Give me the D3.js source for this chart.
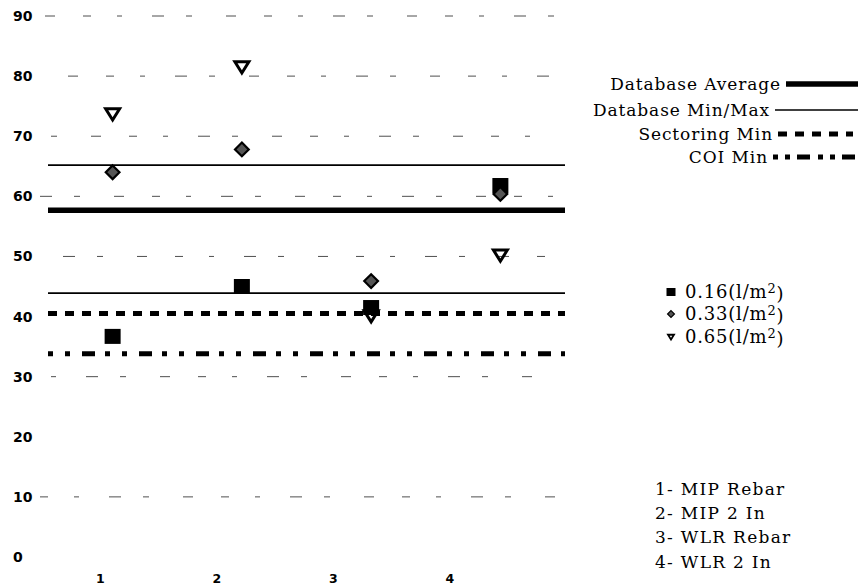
<!DOCTYPE html>
<html>
<head>
<meta charset="utf-8">
<script src="https://cdn.jsdelivr.net/npm/d3@7/dist/d3.min.js"></script>
<style>
  html, body { margin: 0; padding: 0; background: #fff; }
  svg { display: block; }
  .serif { font-family: "DejaVu Serif", "Liberation Serif", serif; fill: #000; }
  .tick-lab { font-family: "DejaVu Sans", "Liberation Sans", sans-serif; font-weight: bold; fill: #000; }
</style>
</head>
<body>
<svg id="chart" width="861" height="586"></svg>
<script>
// Test cases on the x axis
const cases = [1, 2, 3, 4];
const caseNames = ["1- MIP Rebar", "2- MIP 2 In", "3- WLR Rebar", "4- WLR 2 In"];

// Measured results per application rate (l/m2)
const rate016 = [36.7, 45.0, 41.5, 61.8];
const rate033 = [64.0, 67.8, 45.9, 60.4];
const rate065 = [73.7, 81.5, 40.1, 50.2];
const rateLabels = ["0.16", "0.33", "0.65"];

// Reference levels from the database
const dbAverage = 57.7;
const dbMinMax = [43.9, 65.2];
const sectoringMin = 40.5;
const coiMin = 33.8;

// Axis ticks
const yTicks = [0, 10, 20, 30, 40, 50, 60, 70, 80, 90];
const gridValues = [10, 30, 50, 60, 70, 80, 90];

const svg = d3.select("#chart");

const y = d3.scaleLinear().domain([0, 90]).range([557, 16]);
const x = d3.scaleLinear().domain([0.5, 4.5]).range([48, 565]);
const xLab = d3.scaleLinear().domain([0.5, 4.5]).range([42, 508]);

// faint broken gridlines
const grid = svg.append("g");
gridValues.forEach((v, i) => {
  grid.append("line")
    .attr("x1", 40).attr("x2", 560)
    .attr("y1", y(v)).attr("y2", y(v))
    .attr("stroke", "#222").attr("stroke-width", 0.8)
    .attr("stroke-dasharray", "8,26,5,30,12,22,6,34,10,28")
    .attr("stroke-dashoffset", i * 23);
});

// y tick labels
svg.append("g").selectAll("text").data(yTicks).join("text")
  .attr("class", "tick-lab")
  .attr("x", 13).attr("y", d => y(d))
  .attr("dy", "0.36em")
  .style("font-size", "14px")
  .text(d => d);

// x labels
svg.append("g").selectAll("text").data(cases).join("text")
  .attr("class", "tick-lab")
  .attr("x", d => xLab(d)).attr("y", 583)
  .attr("text-anchor", "middle")
  .style("font-size", "12.5px")
  .text(d => d);

// reference lines
const refs = svg.append("g");
function refLine(v, width, dash) {
  refs.append("line")
    .attr("x1", x(0.5)).attr("x2", x(4.5))
    .attr("y1", y(v)).attr("y2", y(v))
    .attr("stroke", "#000").attr("stroke-width", width)
    .attr("stroke-dasharray", dash || null);
}
refLine(dbAverage, 5.5);
dbMinMax.forEach(v => refLine(v, 1.6));
refLine(sectoringMin, 5, "9,8");
refLine(coiMin, 5, "5,12,5,12,13,10");

// markers
const marks = svg.append("g");
marks.selectAll("rect").data(rate016).join("rect")
  .attr("x", (d, i) => x(cases[i]) - 8)
  .attr("y", d => y(d) - 7.5)
  .attr("width", 16).attr("height", 15)
  .attr("fill", "#000");

const diamond = d3.symbol().type(d3.symbolDiamond2).size(120);
marks.selectAll("path.dia").data(rate033).join("path")
  .attr("class", "dia")
  .attr("d", diamond)
  .attr("transform", (d, i) => `translate(${x(cases[i])},${y(d)})`)
  .attr("fill", "#555").attr("stroke", "#000").attr("stroke-width", 2.2);

function triDown(s) {
  return `M${-s},${-s * 0.75}L${s},${-s * 0.75}L0,${s * 0.85}Z`;
}
marks.selectAll("path.tri").data(rate065).join("path")
  .attr("class", "tri")
  .attr("d", triDown(7))
  .attr("transform", (d, i) => `translate(${x(cases[i])},${y(d)})`)
  .attr("fill", "none").attr("stroke", "#000").attr("stroke-width", 3)
  .attr("stroke-linejoin", "miter");

// legend: reference lines
const leg = svg.append("g");
const lineLegend = [
  { name: "Database Average", yy: 84, w: 5.5, dash: null, x1: 786, x2: 858 },
  { name: "Database Min/Max", yy: 110, w: 1.4, dash: null, x1: 775, x2: 858 },
  { name: "Sectoring Min", yy: 134, w: 5, dash: "9,8", x1: 778, x2: 853 },
  { name: "COI Min", yy: 157, w: 5, dash: "5,7,5,7,13,8", x1: 773, x2: 861 }
];
lineLegend.forEach(d => {
  leg.append("text").attr("class", "serif")
    .attr("x", d.x1 - 5).attr("y", d.yy).attr("dy", "0.35em")
    .attr("text-anchor", "end").attr("font-size", 17)
    .attr("letter-spacing", 0.9)
    .text(d.name);
  leg.append("line")
    .attr("x1", d.x1).attr("x2", d.x2).attr("y1", d.yy).attr("y2", d.yy)
    .attr("stroke", "#000").attr("stroke-width", d.w)
    .attr("stroke-dasharray", d.dash);
});

// legend: application rates
const rateY = [292, 314, 337];
rateLabels.forEach((lab, i) => {
  const g = leg.append("g").attr("transform", `translate(671,${rateY[i]})`);
  if (i === 0) g.append("rect").attr("x", -4.5).attr("y", -4).attr("width", 9).attr("height", 8).attr("fill", "#000");
  if (i === 1) g.append("path").attr("d", d3.symbol().type(d3.symbolDiamond2).size(30)).attr("fill", "#555").attr("stroke", "#000").attr("stroke-width", 1.2);
  if (i === 2) g.append("path").attr("d", triDown(3)).attr("fill", "none").attr("stroke", "#000").attr("stroke-width", 1.8);
  const t = g.append("text").attr("class", "serif").attr("x", 14).attr("y", 0).attr("dy", "0.35em")
    .attr("font-size", 18).attr("letter-spacing", 0.8);
  t.append("tspan").text(lab + "(l/m");
  t.append("tspan").attr("dy", "-0.4em").attr("font-size", 13).text("2");
  t.append("tspan").attr("dy", "0.4em").text(")");
});

// legend: case names
const caseY = [489, 513, 537, 562];
leg.selectAll("text.case").data(caseNames).join("text")
  .attr("class", "serif case")
  .attr("x", 655).attr("y", (d, i) => caseY[i]).attr("dy", "0.35em")
  .attr("font-size", 17).attr("letter-spacing", 1.3)
  .text(d => d);
</script>
</body>
</html>
